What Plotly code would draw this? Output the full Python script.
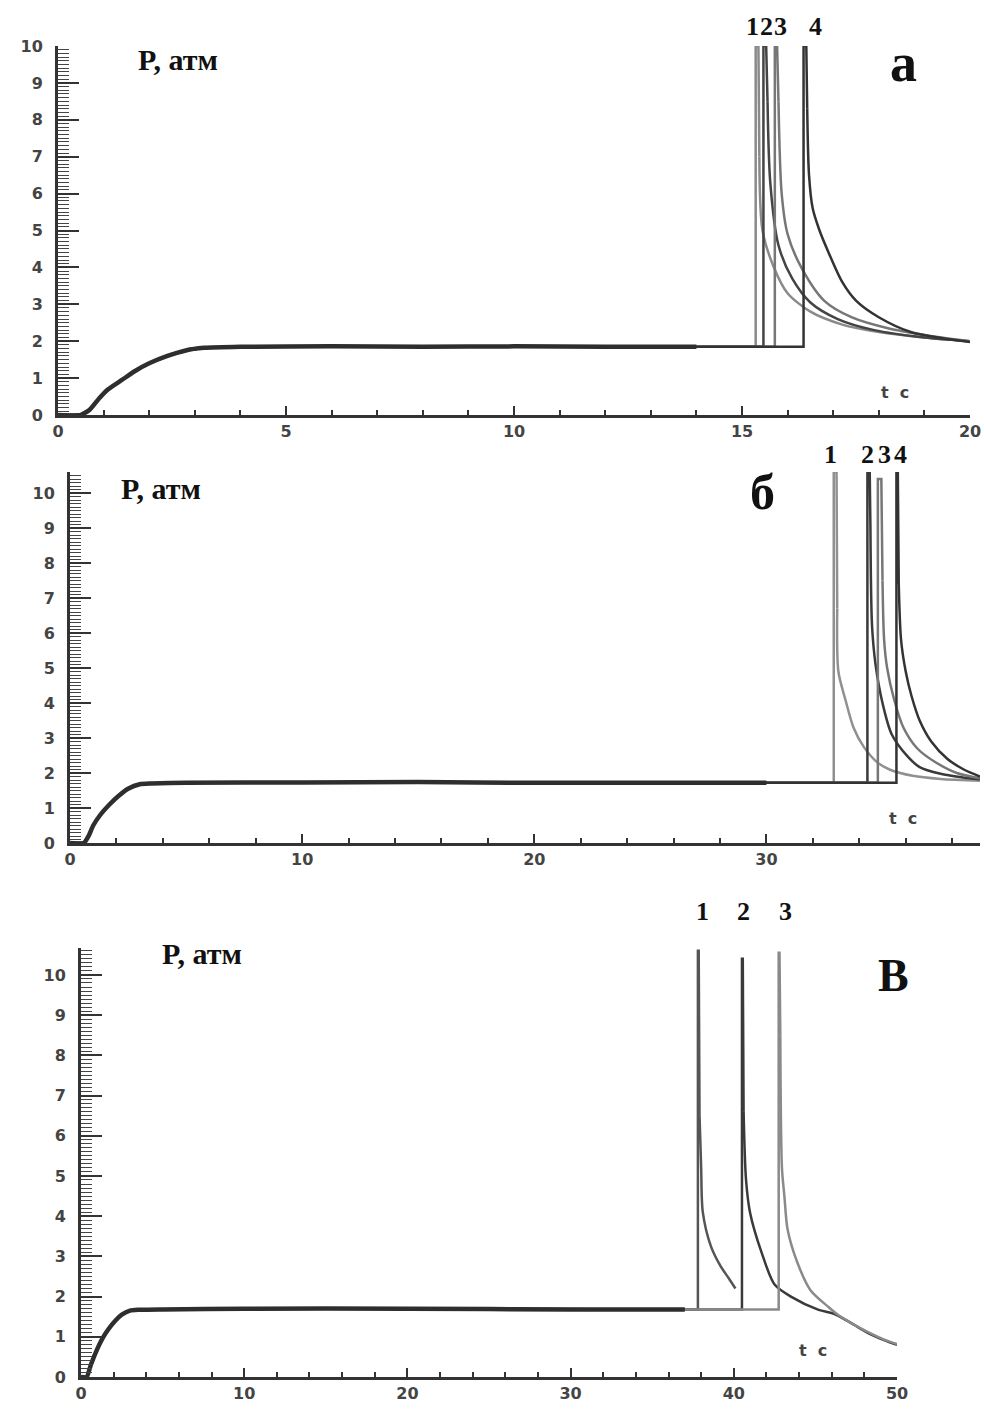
import plotly.graph_objects as go

W, H = 985, 1428

# ---------------- Panel a ----------------
a_base_t = [0, 0.5, 0.7, 0.9, 1.1, 1.4, 1.7, 2.0, 2.4, 2.8, 3.2, 4, 6, 8, 10, 12, 14]
a_base_p = [0, 0, 0.15, 0.45, 0.7, 0.95, 1.2, 1.4, 1.6, 1.75, 1.82, 1.85, 1.86, 1.85, 1.86, 1.85, 1.85]

# spike part (plateau end, up, top, drop) + decay part
a1_t = [15.3, 15.3, 15.36, 15.38, 15.45, 15.7, 16.0, 16.5, 17.2, 18.0, 19.0, 20.0]
a1_p = [1.85, 10, 10, 7.0, 5.0, 4.0, 3.3, 2.8, 2.45, 2.25, 2.1, 2.0]
a2_t = [15.47, 15.47, 15.53, 15.56, 15.62, 15.8, 16.1, 16.5, 17.1, 17.9, 19.0, 20.0]
a2_p = [1.85, 10, 10, 8.5, 6.3, 4.6, 3.7, 3.05, 2.6, 2.3, 2.1, 2.0]
a3_t = [15.72, 15.72, 15.77, 15.8, 15.87, 16.0, 16.3, 16.8, 17.4, 18.2, 19.1, 20.0]
a3_p = [1.85, 10, 10, 8.5, 6.0, 4.9, 4.0, 3.1, 2.65, 2.35, 2.15, 2.0]
a4_t = [16.35, 16.35, 16.41, 16.43, 16.47, 16.55, 16.7, 16.9, 17.2, 17.5, 18.0, 18.7, 19.4, 20.0]
a4_p = [1.85, 10, 10, 8.3, 6.5, 5.6, 5.0, 4.4, 3.6, 3.1, 2.65, 2.25, 2.08, 1.98]

# ---------------- Panel б ----------------
b_base_t = [0, 0.6, 0.8, 1.0, 1.3, 1.7, 2.1, 2.5, 3.0, 3.5, 5, 10, 15, 20, 25, 30]
b_base_p = [0, 0, 0.2, 0.5, 0.8, 1.1, 1.35, 1.55, 1.68, 1.7, 1.72, 1.73, 1.74, 1.72, 1.72, 1.72]

b1_t = [32.9, 32.9, 33.02, 33.05, 33.1, 33.4, 33.75, 34.2, 34.8, 35.3, 36.3, 37.5, 39.2]
b1_p = [1.72, 10.6, 10.6, 6.7, 4.9, 4.1, 3.3, 2.74, 2.29, 2.1, 1.92, 1.83, 1.78]
b2_t = [34.35, 34.35, 34.45, 34.48, 34.55, 34.7, 35.0, 35.4, 36.1, 36.6, 37.5, 38.4, 39.2]
b2_p = [1.72, 10.6, 10.6, 9.0, 6.2, 5.1, 4.0, 3.1, 2.46, 2.17, 1.98, 1.88, 1.82]
b3_t = [34.8, 34.8, 34.95, 35.0, 35.07, 35.2, 35.5, 35.9, 36.5, 37.3, 38.2, 39.2]
b3_p = [1.72, 10.4, 10.4, 7.5, 5.8, 5.0, 4.1, 3.3, 2.7, 2.3, 2.0, 1.85]
b4_t = [35.6, 35.6, 35.66, 35.7, 35.8, 36.0, 36.25, 36.6, 37.1, 37.8, 38.5, 39.2]
b4_p = [1.72, 10.6, 10.6, 7.4, 5.8, 4.9, 4.2, 3.5, 2.9, 2.4, 2.1, 1.9]

# ---------------- Panel в ----------------
c_base_t = [0, 0.35, 0.6, 1.0, 1.3, 1.7, 2.1, 2.5, 3.0, 3.5, 5, 10, 20, 30, 37]
c_base_p = [0, 0, 0.3, 0.7, 0.95, 1.2, 1.4, 1.55, 1.65, 1.67, 1.68, 1.7, 1.7, 1.68, 1.68]

c1_t = [37.8, 37.8, 37.85, 37.9, 38.0, 38.1, 38.6, 39.2, 39.7, 40.1]
c1_p = [1.68, 10.6, 10.6, 6.5, 5.2, 4.1, 3.25, 2.75, 2.45, 2.2]
c2_t = [40.5, 40.5, 40.55, 40.6, 40.75, 41.0, 41.7, 42.5, 43.5, 45.2, 46.1, 47.2, 48.2, 49.2, 50.0]
c2_p = [1.68, 10.4, 10.4, 6.6, 4.9, 4.08, 3.1, 2.3, 2.0, 1.67, 1.58, 1.34, 1.1, 0.92, 0.8]
c3_t = [42.75, 42.75, 42.8, 42.85, 42.95, 43.1, 43.3, 43.9, 44.7, 45.8, 46.4, 47.2, 48.2, 49.2, 50.0]
c3_p = [1.68, 10.55, 10.55, 8.5, 5.2, 4.5, 3.66, 2.84, 2.16, 1.74, 1.54, 1.34, 1.12, 0.93, 0.82]

# tick labels
a_xticks = [0, 5, 10, 15, 20]
b_xticks = [0, 10, 20, 30]
c_xticks = [0, 10, 20, 30, 40, 50]
y_ticks = list(range(0, 11))

N_SPIKE = 4  # points of the spike part (straight); the rest is a smooth decay


def px(x):
    return x / W


def py(y):
    return 1 - y / H


fig = go.Figure()

panels = [
    ("x", "y", a_base_t, a_base_p,
     [(a1_t, a1_p), (a2_t, a2_p), (a3_t, a3_p), (a4_t, a4_p)],
     ["#8a8a8a", "#444444", "#777777", "#333333"]),
    ("x2", "y2", b_base_t, b_base_p,
     [(b1_t, b1_p), (b2_t, b2_p), (b3_t, b3_p), (b4_t, b4_p)],
     ["#909090", "#3a3a3a", "#777777", "#333333"]),
    ("x3", "y3", c_base_t, c_base_p,
     [(c1_t, c1_p), (c2_t, c2_p), (c3_t, c3_p)],
     ["#555555", "#3a3a3a", "#8a8a8a"]),
]

for xa, ya, bt, bp, curves, cols in panels:
    for (ct, cp), col in zip(curves, cols):
        fig.add_trace(go.Scatter(x=bt + ct[:N_SPIKE], y=bp + cp[:N_SPIKE], mode="lines",
                                 xaxis=xa, yaxis=ya, line=dict(color=col, width=2.5),
                                 showlegend=False, hoverinfo="skip"))
        fig.add_trace(go.Scatter(x=ct[N_SPIKE - 1:], y=cp[N_SPIKE - 1:], mode="lines",
                                 xaxis=xa, yaxis=ya,
                                 line=dict(color=col, width=2.5, shape="spline", smoothing=0.8),
                                 showlegend=False, hoverinfo="skip"))
    # noisy record drawn as a dark thick band
    fig.add_trace(go.Scatter(x=bt, y=bp, mode="lines", xaxis=xa, yaxis=ya,
                             line=dict(color="#2e2e2e", width=4.5, shape="spline", smoothing=0.5),
                             showlegend=False, hoverinfo="skip"))

tickfont = dict(family="DejaVu Sans", size=16, color="#444444", weight="bold")


def xaxis_cfg(domain, rng, ticks, minor_dt, anchor):
    return dict(domain=domain, range=rng, tickvals=ticks, ticktext=[str(v) for v in ticks],
                showgrid=False, zeroline=False, showline=True, linecolor="#333333", linewidth=2.5,
                ticks="inside", ticklen=9, tickwidth=2, tickcolor="#333333",
                minor=dict(ticks="inside", ticklen=5, tickwidth=1.5, tickcolor="#333333",
                           dtick=minor_dt, tick0=0, showgrid=False),
                tickfont=tickfont, anchor=anchor, automargin=False, fixedrange=True,
                ticklabelstandoff=0)


def yaxis_cfg(domain, rng, anchor):
    return dict(domain=domain, range=rng, tickvals=y_ticks, ticktext=[str(v) for v in y_ticks],
                showgrid=False, zeroline=False, showline=True, linecolor="#333333", linewidth=3,
                ticks="inside", ticklen=21, tickwidth=2, tickcolor="#333333",
                minor=dict(ticks="inside", ticklen=11, tickwidth=1.2, tickcolor="#444444",
                           dtick=0.1, tick0=0, showgrid=False),
                tickfont=tickfont, anchor=anchor, automargin=False, fixedrange=True,
                ticklabelstandoff=9)


fig.update_layout(
    width=W, height=H, margin=dict(l=0, r=0, t=0, b=0),
    paper_bgcolor="white", plot_bgcolor="white",
    xaxis=xaxis_cfg([px(58), px(970)], [0, 20], a_xticks, 1, "y"),
    yaxis=yaxis_cfg([py(415), py(46)], [0, 10], "x"),
    xaxis2=xaxis_cfg([px(70), px(980)], [0, 39.2], b_xticks, 2, "y2"),
    yaxis2=yaxis_cfg([py(843), py(472)], [0, 10.6], "x2"),
    xaxis3=xaxis_cfg([px(81), px(897)], [0, 50], c_xticks, 2, "y3"),
    yaxis3=yaxis_cfg([py(1377), py(948)], [0, 10.67], "x3"),
)

serif = "Liberation Serif"
anns = [
    ("P, атм", 178, 60, 30), ("a", 903, 63, 54),
    ("1", 752, 26, 26), ("2", 766, 26, 26), ("3", 780, 26, 26), ("4", 815, 26, 26),
    ("P, атм", 161, 488, 30), ("б", 762, 492, 50),
    ("1", 830, 455, 26), ("2", 867, 455, 26), ("3", 884, 455, 26), ("4", 900, 455, 26),
    ("P, атм", 202, 953, 30), ("B", 893, 975, 46),
    ("1", 702, 912, 26), ("2", 743, 912, 26), ("3", 785, 912, 26),
]
for txt, x, y, s in anns:
    fig.add_annotation(text=f"<b>{txt}</b>", x=px(x), y=py(y), xref="paper", yref="paper",
                       showarrow=False, xanchor="center", yanchor="middle",
                       font=dict(family=serif, size=s, color="#111111"))

for x, y in [(895, 392), (903, 818), (813, 1350)]:
    fig.add_annotation(text="<b>t  c</b>", x=px(x), y=py(y), xref="paper", yref="paper",
                       showarrow=False, xanchor="center", yanchor="middle",
                       font=dict(family="DejaVu Sans", size=16, color="#444444"))

# remove the browser's default 8px page margin so the figure fills the window exactly
fig.write_html("out.html", config={"displayModeBar": False},
               post_script="document.body.style.margin='0';document.body.style.overflow='hidden';")
